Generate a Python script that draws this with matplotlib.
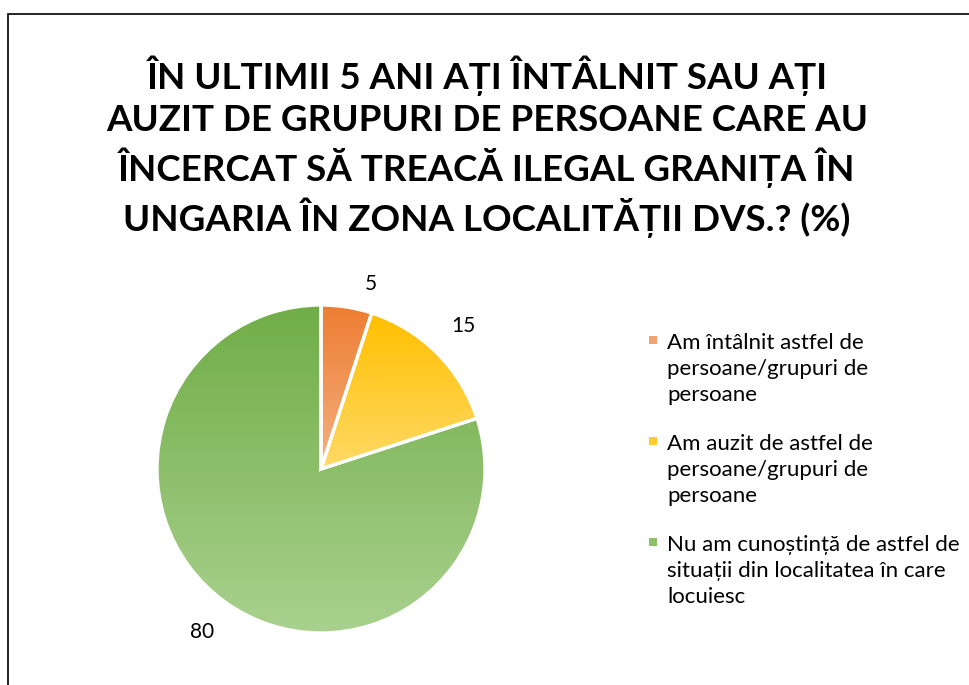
import numpy as np
import matplotlib
matplotlib.use("Agg")
import matplotlib.pyplot as plt
from matplotlib.colors import LinearSegmentedColormap
from matplotlib.patches import Rectangle

# =========================
# Data
# =========================
title = ("ÎN ULTIMII 5 ANI AȚI ÎNTÂLNIT SAU AȚI\n"
         "AUZIT DE GRUPURI DE PERSOANE CARE AU\n"
         "ÎNCERCAT SĂ TREACĂ ILEGAL GRANIȚA ÎN\n"
         "UNGARIA ÎN ZONA LOCALITĂȚII DVS.? (%)")
categories = [
    "Am întâlnit astfel de\npersoane/grupuri de\npersoane",
    "Am auzit de astfel de\npersoane/grupuri de\npersoane",
    "Nu am cunoștință de astfel de\nsituații din localitatea în care\nlocuiesc",
]
values = [5, 15, 80]

# gradient (top -> bottom) per slice
grad_top = ["#ED7D31", "#FFC000", "#70AD47"]
grad_bottom = ["#F4B183", "#FFD966", "#A9D18E"]
legend_colors = ["#F2A272", "#FFCB33", "#8DBF6A"]

plt.rcParams["font.family"] = ["Lato", "DejaVu Sans"]

W, H = 970, 685
fig = plt.figure(figsize=(W / 100, H / 100), dpi=100)
fig.patch.set_facecolor("white")

# outer frame (runs off the right/bottom edge like the source)
fig.patches.append(Rectangle((8 / W, -0.1), 1.2, 1 - 14 / H + 0.1,
                             transform=fig.transFigure, fill=False,
                             edgecolor="black", linewidth=1.2, clip_on=False))

fig.text(487 / W, 1 - 56 / H, title, ha="center", va="top",
         fontsize=26.5, fontweight="bold", linespacing=1.29, color="black")

# =========================
# Pie
# =========================
cx, cy, r = 321, 469, 164
ax = fig.add_axes([(cx - r) / W, (H - cy - r) / H, 2 * r / W, 2 * r / H])
wedges, _ = ax.pie(values, startangle=90, counterclock=False, radius=1,
                   wedgeprops=dict(edgecolor="white", linewidth=2.4))

grad = np.linspace(0, 1, 256).reshape(-1, 1)
for w, c0, c1 in zip(wedges, grad_top, grad_bottom):
    ext = w.get_path().get_extents()
    cmap = LinearSegmentedColormap.from_list("g", [c0, c1])
    im = ax.imshow(grad, cmap=cmap, aspect="auto", origin="upper",
                   extent=[ext.x0, ext.x1, ext.y0, ext.y1], zorder=1)
    im.set_clip_path(w)
    w.set_facecolor("none")
    w.set_zorder(2)

for w, v in zip(wedges, values):
    ang = np.deg2rad((w.theta1 + w.theta2) / 2)
    dist = 1.23
    # narrow slice labels sit a bit further round, as in the source
    if w.theta2 - w.theta1 < 30:
        ang -= np.deg2rad(6)
        dist = 1.17
    ax.text(dist * np.cos(ang), dist * np.sin(ang), str(v), ha="center",
            va="center", fontsize=15, color="black")

ax.set_xlim(-1, 1)
ax.set_ylim(-1, 1)
ax.set_aspect("equal")
ax.axis("off")

# =========================
# Legend
# =========================
for i, (lab, col) in enumerate(zip(categories, legend_colors)):
    y_top = 333 + i * 101
    fig.patches.append(Rectangle((649 / W, 1 - (y_top + 11) / H), 8 / W, 8 / H,
                                 transform=fig.transFigure, facecolor=col,
                                 edgecolor="none"))
    fig.text(667 / W, 1 - y_top / H, lab, ha="left", va="top",
             fontsize=16, linespacing=1.38, color="black")

fig.savefig("out.png", dpi=100)
